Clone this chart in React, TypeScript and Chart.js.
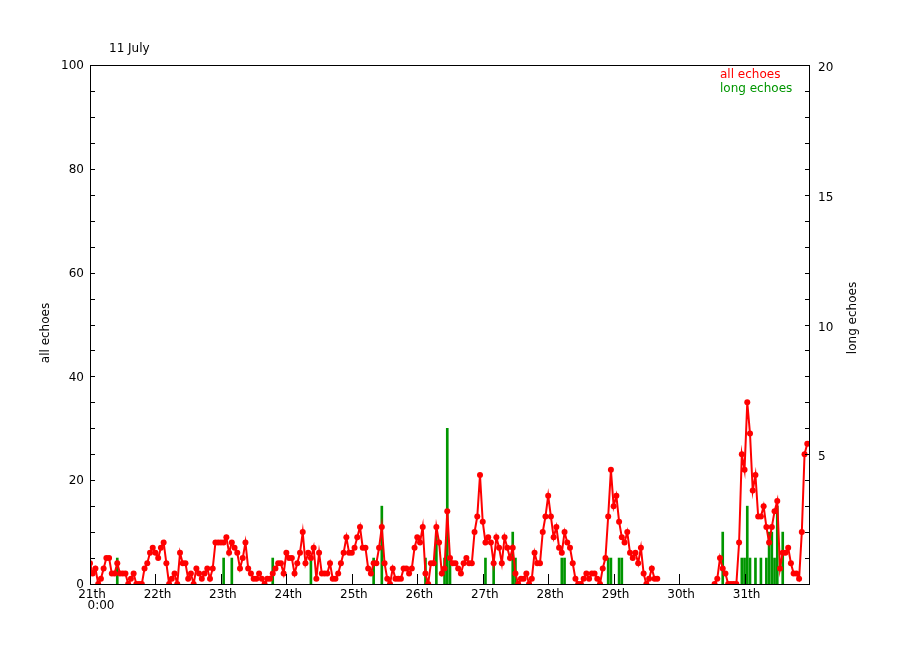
import React, { useEffect, useRef } from "react";
import { Chart, registerables } from "chart.js";

Chart.register(...registerables);

// ---- data ----
const HOURS_TOTAL = 264; // 21 July 0:00 .. 1 Aug 0:00, hourly
const dayLabels = ["21th", "22th", "23th", "24th", "25th", "26th", "27th", "28th", "29th", "30th", "31th"];
const firstTickSub = "0:00";
const titleText = "11 July";
const leftTitle = "all echoes";
const rightTitle = "long echoes";
const leftTickValues = [0, 20, 40, 60, 80, 100];
const rightTickValues = [5, 10, 15, 20];

// hourly counts of all echoes (null = no data)
const allEchoes: (number | null)[] = [
  // 21th
  4, 2, 3, 0, 1, 3, 5, 5, 2, 2, 4, 2, 2, 2, 0, 1, 2, 0, 0, 0, 3, 4, 6, 7,
  // 22th
  6, 5, 7, 8, 4, 0, 1, 2, 0, 6, 4, 4, 1, 2, 0, 3, 2, 1, 2, 3, 1, 3, 8, 8,
  // 23th
  8, 8, 9, 6, 8, 7, 6, 3, 5, 8, 3, 2, 1, 1, 2, 1, 0, 1, 1, 2, 3, 4, 4, 2,
  // 24th
  6, 5, 5, 2, 4, 6, 10, 4, 6, 5, 7, 1, 6, 2, 2, 2, 4, 1, 1, 2, 4, 6, 9, 6,
  // 25th
  6, 7, 9, 11, 7, 7, 3, 2, 4, 4, 7, 11, 4, 1, 0, 3, 1, 1, 1, 3, 3, 2, 3, 7,
  // 26th
  9, 8, 11, 2, 0, 4, 4, 11, 8, 2, 3, 14, 5, 4, 4, 3, 2, 4, 5, 4, 4, 10, 13, 21,
  // 27th
  12, 8, 9, 8, 4, 9, 7, 4, 9, 7, 5, 7, 2, 0, 1, 1, 2, 0, 1, 6, 4, 4, 10, 13,
  // 28th
  17, 13, 9, 11, 7, 6, 10, 8, 7, 4, 1, 0, 0, 1, 2, 1, 2, 2, 1, 0, 3, 5, 13, 22,
  // 29th
  15, 17, 12, 9, 8, 10, 6, 5, 6, 4, 7, 2, 0, 1, 3, 1, 1, null, null, null, null, null, null, null,
  // 30th
  null, null, null, null, null, null, null, null, null, null, null, null, null, 0, 1, 5, 3, 2, 0, 0, 0, 0, 8, 25,
  // 31th
  22, 35, 29, 18, 21, 13, 13, 15, 11, 8, 11, 14, 16, 3, 6, 6, 7, 4, 2, 2, 1, 10, 25, 27,
];

// long echoes: hour index and count
const longEchoHours = [10, 49, 52, 67, 81, 104, 107, 123, 127, 130, 131, 132, 145, 148, 155, 156, 173, 174, 190, 191, 194, 195, 232, 239, 240, 241, 242, 244, 246, 248, 249, 250, 251, 252, 254];
const longEchoCounts = [1, 1, 1, 1, 1, 1, 3, 1, 2, 1, 6, 1, 1, 1, 2, 1, 1, 1, 1, 1, 1, 1, 2, 1, 1, 3, 1, 1, 1, 1, 2, 2, 1, 3, 2];

const RED = "#ff0000";
const GREEN = "#009600";
const FONT = "DejaVu Sans";

export default function App() {
  const ref = useRef<HTMLCanvasElement | null>(null);

  useEffect(() => {
    const canvas = ref.current;
    if (!canvas) return;

    const overlay = {
      id: "idlOverlay",
      afterDraw(chart: any) {
        const ctx = chart.ctx as CanvasRenderingContext2D;
        const a = chart.chartArea;
        const xs = chart.scales.x;
        const ys = chart.scales.y;
        const y2 = chart.scales.y2;
        ctx.save();
        ctx.strokeStyle = "#000";
        ctx.lineWidth = 1;
        // frame
        ctx.strokeRect(Math.round(a.left) + 0.5, Math.round(a.top) + 0.5, Math.round(a.right - a.left) - 1, Math.round(a.bottom - a.top));
        ctx.beginPath();
        // left ticks every 5
        for (let v = 0; v <= 100; v += 5) {
          const y = Math.round(ys.getPixelForValue(v)) + 0.5;
          ctx.moveTo(a.left, y);
          ctx.lineTo(a.left + 5, y);
        }
        // right ticks every 1
        for (let v = 0; v <= 20; v += 1) {
          const y = Math.round(y2.getPixelForValue(v)) + 0.5;
          ctx.moveTo(a.right, y);
          ctx.lineTo(a.right - 5, y);
        }
        // bottom ticks every day
        for (let h = 0; h < HOURS_TOTAL; h += 24) {
          const x = Math.round(xs.getPixelForValue(h)) + 0.5;
          ctx.moveTo(x, a.bottom);
          ctx.lineTo(x, a.bottom - 10);
        }
        ctx.stroke();

        ctx.font = `12px "${FONT}"`;
        ctx.fillStyle = "#000";
        ctx.textAlign = "left";
        ctx.textBaseline = "alphabetic";
        ctx.fillText(titleText, 109, 52);
        ctx.textAlign = "center";
        ctx.fillText(firstTickSub, xs.getPixelForValue(0) + 11, 609);

        // axis titles
        ctx.save();
        ctx.translate(49, 333);
        ctx.rotate(-Math.PI / 2);
        ctx.textAlign = "center";
        ctx.fillText(leftTitle, 0, 0);
        ctx.restore();
        ctx.save();
        ctx.translate(856, 318);
        ctx.rotate(-Math.PI / 2);
        ctx.textAlign = "center";
        ctx.fillText(rightTitle, 0, 0);
        ctx.restore();

        // legend
        ctx.textAlign = "left";
        ctx.fillStyle = RED;
        ctx.fillText("all echoes", 720, 78);
        ctx.fillStyle = GREEN;
        ctx.fillText("long echoes", 720, 92);
        ctx.restore();
      },
    };

    const chart = new Chart(canvas, {
      type: "bar",
      data: {
        datasets: [
          {
            type: "line",
            label: "all echoes",
            data: allEchoes.map((v, h) => ({ x: h, y: v })),
            yAxisID: "y",
            xAxisID: "x",
            borderColor: RED,
            borderWidth: 2,
            pointRadius: 3,
            pointBackgroundColor: RED,
            pointBorderWidth: 0,
            pointHoverRadius: 3,
            spanGaps: false,
            tension: 0,
            order: 1,
          } as any,
          {
            type: "bar",
            label: "long echoes",
            data: longEchoHours.map((h, i) => ({ x: h, y: longEchoCounts[i] })),
            yAxisID: "y2",
            xAxisID: "x",
            backgroundColor: GREEN,
            barThickness: 2,
            order: 2,
          } as any,
        ],
      },
      options: {
        animation: false,
        responsive: false,
        devicePixelRatio: 1,
        events: [],
        layout: { padding: { top: 65, left: 0, right: 0, bottom: 0 } },
        plugins: {
          legend: { display: false },
          tooltip: { enabled: false },
          title: { display: false },
        },
        scales: {
          x: {
            type: "linear",
            min: 0,
            max: HOURS_TOTAL,
            offset: false,
            grid: { display: false, drawTicks: false },
            border: { display: false },
            afterBuildTicks: (scale: any) => {
              scale.ticks = dayLabels.map((_, i) => ({ value: i * 24 }));
            },
            afterFit: (scale: any) => {
              scale.height = 66;
            },
            ticks: {
              autoSkip: false,
              maxRotation: 0,
              padding: 4,
              labelOffset: 2,
              color: "#000",
              font: { family: FONT, size: 12 },
              callback: (v: any) => {
                const i = Math.round(Number(v) / 24);
                return dayLabels[i] ?? "";
              },
            },
          },
          y: {
            type: "linear",
            position: "left",
            min: 0,
            max: 100,
            grid: { display: false, drawTicks: false },
            border: { display: false },
            afterBuildTicks: (scale: any) => {
              scale.ticks = leftTickValues.map((v) => ({ value: v }));
            },
            afterFit: (scale: any) => {
              scale.width = 90;
            },
            ticks: {
              padding: 6,
              labelOffset: 1,
              color: "#000",
              font: { family: FONT, size: 12 },
              callback: (v: any) => String(v),
            },
          },
          y2: {
            type: "linear",
            position: "right",
            min: 0,
            max: 20,
            grid: { display: false, drawTicks: false },
            border: { display: false },
            afterBuildTicks: (scale: any) => {
              scale.ticks = rightTickValues.map((v) => ({ value: v }));
            },
            afterFit: (scale: any) => {
              scale.width = 90;
            },
            ticks: {
              padding: 8,
              labelOffset: 3,
              color: "#000",
              font: { family: FONT, size: 12 },
              callback: (v: any) => String(v),
            },
          },
        },
      } as any,
      plugins: [overlay],
    });

    return () => chart.destroy();
  }, []);

  return (
    <div style={{ position: "absolute", left: 0, top: 0, width: 900, height: 650, background: "#fff" }}>
      <canvas ref={ref} width={900} height={650} style={{ width: 900, height: 650, display: "block" }} />
    </div>
  );
}
